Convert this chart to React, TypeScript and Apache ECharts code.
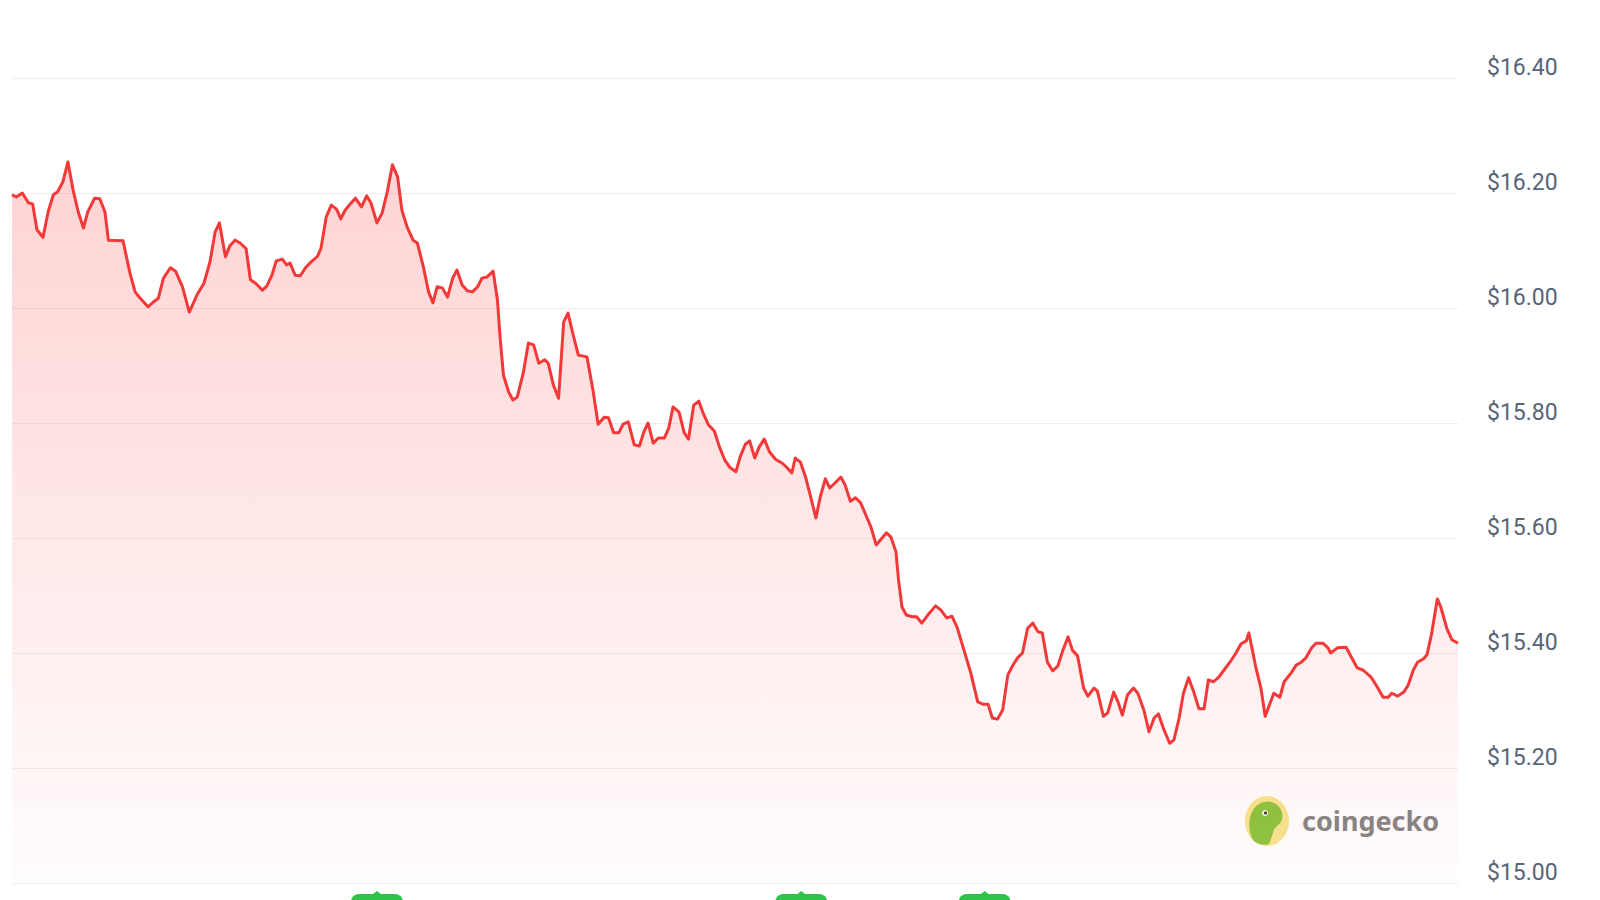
import React, { useEffect, useRef } from "react";
import * as echarts from "echarts";

// Hours since the start of the 7-day window
const hours = [
  0.0, 0.5, 1.2, 1.9, 2.4, 2.9, 3.6, 4.2, 4.8, 5.3, 5.9, 6.5, 7.1, 7.7, 8.3, 8.8, 9.6, 10.2, 10.8, 11.2,
  12.9, 13.7, 14.3, 14.9, 15.8, 16.4, 17.0, 17.6, 18.4, 19.0, 19.8, 20.6, 21.5, 22.3, 23.0, 23.6, 24.1, 24.8, 25.3, 25.9,
  26.5, 27.2, 27.7, 28.3, 29.1, 29.6, 30.2, 30.7, 31.4, 31.9, 32.3, 32.9, 33.5, 34.1, 34.6, 35.5, 35.9, 36.5, 37.1, 37.7,
  38.2, 38.7, 39.3, 39.9, 40.6, 41.2, 41.7, 42.4, 43.0, 43.6, 44.2, 44.8, 45.3, 45.9, 46.6, 47.1, 47.8, 48.4, 48.9, 49.4,
  50.0, 50.6, 51.2, 51.7, 52.3, 52.9, 53.5, 54.1, 54.6, 55.2, 55.9, 56.4, 56.7, 57.1, 57.7, 58.2, 58.7, 59.4, 60.0, 60.6,
  61.2, 61.9, 62.3, 62.9, 63.5, 64.1, 64.6, 65.2, 65.8, 66.8, 67.5, 68.1, 68.8, 69.3, 69.9, 70.5, 71.0, 71.6, 72.3, 72.9,
  73.4, 73.9, 74.5, 75.1, 75.8, 76.3, 76.8, 77.5, 78.1, 78.6, 79.2, 79.8, 80.3, 80.9, 81.6, 82.2, 82.8, 83.4, 84.1, 84.6,
  85.2, 85.7, 86.3, 86.8, 87.4, 88.0, 88.7, 89.5, 90.0, 90.6, 91.0, 91.6, 92.2, 92.8, 93.4, 93.9, 94.5, 95.0, 95.7, 96.3,
  96.8, 97.4, 98.0, 98.6, 99.2, 99.8, 100.4, 101.6, 102.1, 102.7, 103.0, 103.4, 103.9, 104.6, 105.1, 105.7, 106.4, 107.3, 107.9, 108.6,
  109.2, 109.8, 110.6, 111.4, 112.2, 112.8, 113.4, 113.9, 114.5, 115.1, 115.7, 116.3, 116.8, 117.4, 118.0, 118.6, 119.2, 119.7, 120.3, 120.9,
  121.5, 122.1, 122.7, 123.2, 123.8, 124.5, 125.0, 125.7, 126.1, 126.8, 127.3, 128.0, 128.5, 129.0, 129.6, 130.3, 130.8, 131.5, 132.1, 132.7,
  133.2, 133.8, 134.5, 135.0, 135.6, 136.1, 136.7, 137.3, 137.9, 138.5, 139.0, 139.6, 140.2, 140.8, 141.5, 142.2, 142.8, 143.4, 143.7, 144.5,
  145.1, 145.6, 146.0, 146.6, 147.3, 147.8, 148.6, 149.2, 149.7, 150.3, 151.0, 151.5, 152.3, 152.9, 153.2, 154.0, 155.0, 155.6, 156.3, 157.0,
  157.9, 158.5, 159.3, 159.9, 160.3, 161.0, 161.7, 162.2, 162.8, 163.3, 164.0, 164.4, 164.9, 165.6, 166.0, 166.7, 167.3, 168.0,
];

// Price in USD
const prices = [
  16.197, 16.193, 16.2, 16.183, 16.181, 16.136, 16.123, 16.167, 16.197, 16.202, 16.219, 16.254, 16.205, 16.167, 16.139, 16.167, 16.191, 16.19, 16.167, 16.118,
  16.117, 16.061, 16.028, 16.017, 16.002, 16.01, 16.017, 16.052, 16.07, 16.064, 16.037, 15.993, 16.023, 16.043, 16.08, 16.132, 16.148, 16.089, 16.108, 16.118,
  16.113, 16.103, 16.049, 16.043, 16.031, 16.038, 16.057, 16.082, 16.085, 16.075, 16.078, 16.057, 16.056, 16.07, 16.078, 16.09, 16.104, 16.158, 16.179, 16.172,
  16.155, 16.17, 16.181, 16.191, 16.176, 16.195, 16.183, 16.148, 16.165, 16.202, 16.249, 16.228, 16.17, 16.141, 16.118, 16.113, 16.071, 16.028, 16.009, 16.037,
  16.035, 16.019, 16.052, 16.066, 16.04, 16.03, 16.028, 16.037, 16.052, 16.054, 16.064, 16.014, 15.95, 15.883, 15.854, 15.84, 15.845, 15.887, 15.939, 15.936,
  15.904, 15.91, 15.904, 15.866, 15.843, 15.976, 15.991, 15.953, 15.918, 15.915, 15.857, 15.798, 15.81, 15.809, 15.783, 15.783, 15.798, 15.802, 15.762, 15.76,
  15.784, 15.8, 15.765, 15.774, 15.774, 15.791, 15.828, 15.819, 15.783, 15.772, 15.831, 15.838, 15.817, 15.797, 15.786, 15.758, 15.736, 15.723, 15.715, 15.741,
  15.763, 15.769, 15.739, 15.758, 15.772, 15.75, 15.737, 15.73, 15.723, 15.713, 15.739, 15.732, 15.706, 15.671, 15.635, 15.671, 15.703, 15.687, 15.697, 15.706,
  15.692, 15.664, 15.67, 15.661, 15.64, 15.619, 15.588, 15.609, 15.602, 15.576, 15.527, 15.48, 15.466, 15.463, 15.463, 15.452, 15.466, 15.482, 15.475, 15.461,
  15.464, 15.445, 15.405, 15.365, 15.315, 15.311, 15.311, 15.287, 15.285, 15.301, 15.362, 15.379, 15.391, 15.4, 15.443, 15.452, 15.437, 15.435, 15.384, 15.369,
  15.377, 15.405, 15.428, 15.405, 15.395, 15.339, 15.325, 15.339, 15.334, 15.29, 15.296, 15.332, 15.315, 15.292, 15.327, 15.339, 15.33, 15.301, 15.263, 15.287,
  15.294, 15.268, 15.243, 15.249, 15.287, 15.33, 15.357, 15.332, 15.303, 15.303, 15.353, 15.35, 15.358, 15.37, 15.384, 15.4, 15.416, 15.421, 15.435, 15.376,
  15.339, 15.29, 15.306, 15.33, 15.323, 15.35, 15.365, 15.379, 15.383, 15.391, 15.409, 15.417, 15.417, 15.409, 15.4, 15.409, 15.41, 15.393, 15.374, 15.37,
  15.358, 15.344, 15.323, 15.323, 15.33, 15.325, 15.332, 15.344, 15.37, 15.384, 15.39, 15.397, 15.431, 15.494, 15.48, 15.443, 15.423, 15.417,
];

// Y-axis range and step (tick labels: $15.00 ... $16.40)
const yMin = 15.0;
const yMax = 16.4;
const yStep = 0.2;

// Event markers (hours) shown below the chart
const eventHours = [42.4, 91.7, 113.0];

const geckoPath =
  "M8,44 C3,36 3,22 8,14 C13,6 23,3 31,8 C37,12 39,20 36,26 C33,30 30,31 29,34 C27,39 26,44 24,48 C18,50 12,48 8,44 Z";

let registered = false;

export default function App() {
  const ref = useRef<HTMLDivElement>(null);

  useEffect(() => {
    if (!ref.current) return;
    if (!registered) {
      echarts.graphic.registerShape("gecko", echarts.graphic.extendPath(geckoPath, {}) as any);
      registered = true;
    }
    const chart = echarts.init(ref.current, null, { renderer: "svg" });
    const data = hours.map((h, i) => [h, prices[i]]);

    chart.setOption({
      animation: false,
      backgroundColor: "#ffffff",
      grid: { left: 12, right: 142, top: 78, bottom: 17, containLabel: false },
      xAxis: {
        type: "value",
        min: 0,
        max: 168,
        show: false,
      },
      yAxis: {
        type: "value",
        position: "right",
        min: yMin,
        max: yMax,
        interval: yStep,
        axisLine: { show: false },
        axisTick: { show: false },
        splitLine: { show: true, lineStyle: { color: "#eeeeee", width: 1 } },
        axisLabel: {
          margin: 29,
          fontSize: 23,
          fontFamily: "Roboto",
          color: "#586579",
          verticalAlign: "bottom",
          lineHeight: 22,
          formatter: (v: number) => "$" + v.toFixed(2),
        },
      },
      series: [
        {
          type: "line",
          data,
          showSymbol: false,
          smooth: false,
          lineStyle: { color: "#f23838", width: 3, join: "round" },
          itemStyle: { color: "#f23838" },
          areaStyle: {
            color: new echarts.graphic.LinearGradient(0, 0, 0, 1, [
              { offset: 0, color: "rgba(255,80,80,0.36)" },
              { offset: 1, color: "rgba(255,80,80,0.02)" },
            ]),
          },
        },
      ],
    });

    const markerGraphics = eventHours.map((h) => {
      const px = chart.convertToPixel({ xAxisIndex: 0 }, h) as number;
      return {
        type: "group",
        x: px,
        y: 894,
        children: [
          { type: "rect", shape: { x: -26, y: 0, width: 52, height: 22, r: 8 }, style: { fill: "#2fc24b" } },
          { type: "polygon", shape: { points: [[-5, 1], [0, -3], [5, 1]] }, style: { fill: "#2fc24b" } },
        ],
      };
    });

    chart.setOption({
      graphic: [
        {
          type: "group",
          x: 1245,
          y: 796,
          children: [
            { type: "ellipse", shape: { cx: 22, cy: 25, rx: 22, ry: 25 }, style: { fill: "#f7e58f" } },
            { type: "gecko", x: 0, y: 0, scaleX: 1, scaleY: 1, style: { fill: "#8bc53f" } },
            { type: "circle", shape: { cx: 20, cy: 17, r: 3 }, style: { fill: "#ffffff" } },
            { type: "circle", shape: { cx: 20.5, cy: 17, r: 1.6 }, style: { fill: "#3b3b3b" } },
          ],
        },
        {
          type: "text",
          x: 1302,
          y: 820,
          style: {
            text: "coingecko",
            fontSize: 27,
            fontWeight: 700,
            fontFamily: "Noto Sans",
            fill: "#858585",
            verticalAlign: "middle",
          },
        },
        ...markerGraphics,
      ],
    });

    return () => chart.dispose();
  }, []);

  return (
    <div
      ref={ref}
      style={{ position: "fixed", left: 0, top: 0, width: 1600, height: 900, background: "#fff" }}
    />
  );
}
